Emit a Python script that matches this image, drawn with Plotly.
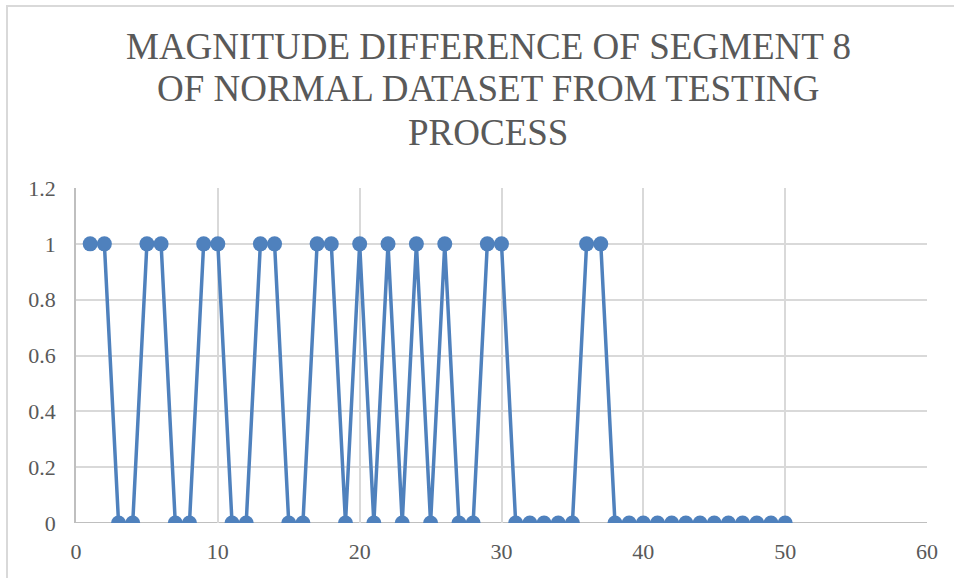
import plotly.graph_objects as go

# Segment index and magnitude difference per segment
segments = list(range(1, 51))
magnitude_diff = [
    1, 1, 0, 0, 1, 1, 0, 0, 1, 1,
    0, 0, 1, 1, 0, 0, 1, 1, 0, 1,
    0, 1, 0, 1, 0, 1, 0, 0, 1, 1,
    0, 0, 0, 0, 0, 1, 1, 0, 0, 0,
    0, 0, 0, 0, 0, 0, 0, 0, 0, 0,
]

title_lines = [
    "MAGNITUDE DIFFERENCE OF SEGMENT 8",
    "OF NORMAL DATASET FROM TESTING",
    "PROCESS",
]

x_ticks = [0, 10, 20, 30, 40, 50, 60]
y_ticks = [0, 0.2, 0.4, 0.6, 0.8, 1.0, 1.2]
y_tick_text = ["0", "0.2", "0.4", "0.6", "0.8", "1", "1.2"]

BLUE = "#4f81bd"
GRID = "#d9d9d9"
TEXT = "#595959"
FONT = "Liberation Serif, Times New Roman, serif"

fig = go.Figure()
fig.add_trace(go.Scatter(
    x=segments,
    y=magnitude_diff,
    mode="lines+markers",
    line=dict(color=BLUE, width=3.5),
    marker=dict(color=BLUE, size=15),
    hoverinfo="x+y",
    showlegend=False,
))

W, H = 954, 578
L, R, T, B = 76, 27, 188, 55
plot_h = H - T - B

# Title as three separately placed lines
line_centers_px = [46, 89, 132]
for txt, cy in zip(title_lines, line_centers_px):
    fig.add_annotation(
        text=txt,
        xref="paper", yref="paper",
        x=(488 - L) / (W - L - R),
        y=(H - B - cy) / plot_h,
        xanchor="center", yanchor="middle",
        showarrow=False,
        font=dict(family=FONT, size=37, color=TEXT),
    )

# Light chart-area frame
fig.add_shape(
    type="rect", xref="paper", yref="paper",
    x0=(7 - L) / (W - L - R), x1=(960 - L) / (W - L - R),
    y0=(H - B - 590) / plot_h, y1=(H - B - 6) / plot_h,
    line=dict(color=GRID, width=2),
    fillcolor="rgba(0,0,0,0)",
    layer="below",
)

fig.update_layout(
    width=W, height=H,
    margin=dict(l=L, r=R, t=T, b=B, pad=0),
    paper_bgcolor="white",
    plot_bgcolor="white",
    font=dict(family=FONT, color=TEXT),
    xaxis=dict(
        range=[0, 60],
        tickvals=x_ticks,
        showgrid=True, gridcolor=GRID, gridwidth=1.5,
        zeroline=False,
        showline=False,
        tickfont=dict(family=FONT, size=22, color=TEXT),
        ticks="",
        ticklabelstandoff=13,
        fixedrange=True,
    ),
    yaxis=dict(
        range=[0, 1.2],
        tickvals=y_ticks,
        ticktext=y_tick_text,
        showgrid=True, gridcolor=GRID, gridwidth=1.5,
        zeroline=False,
        showline=True, linecolor="#bfbfbf", linewidth=1.5,
        tickfont=dict(family=FONT, size=22, color=TEXT),
        ticks="",
        ticklabelstandoff=14,
        fixedrange=True,
    ),
)

# Horizontal axis line along y = 0
fig.add_shape(
    type="line", xref="paper", yref="y",
    x0=0, x1=1, y0=0, y1=0,
    line=dict(color="#bfbfbf", width=2),
    layer="below",
)

fig.write_html("out.html")
